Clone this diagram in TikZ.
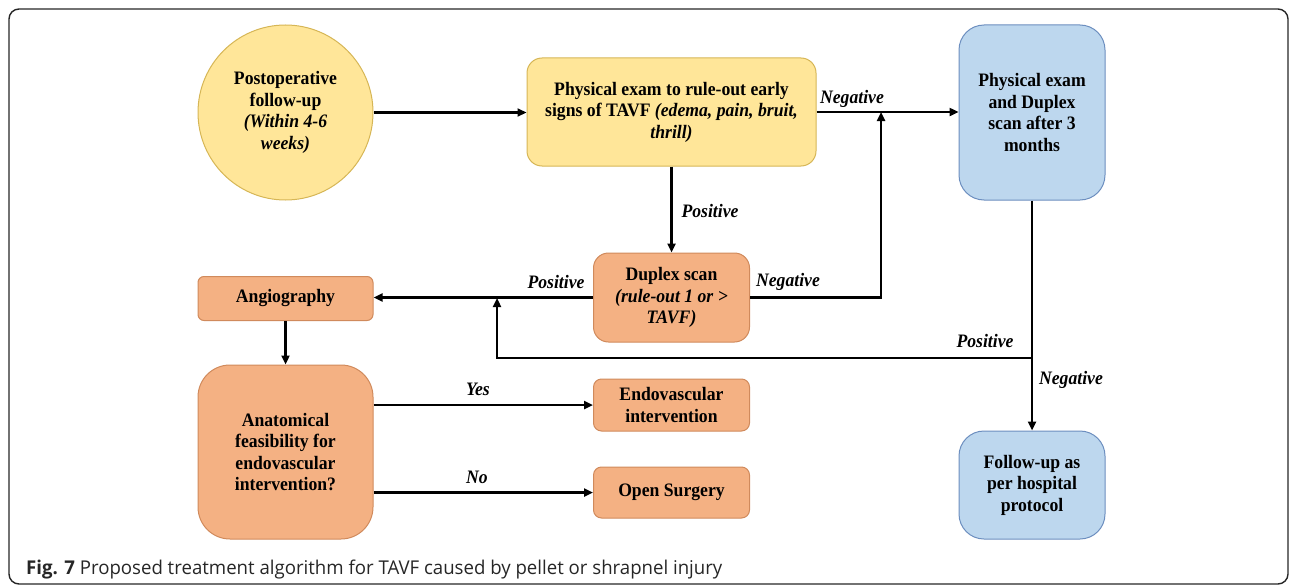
\documentclass[tikz,border=0pt]{standalone}
\usepackage{fontspec}
\setmainfont{Liberation Serif}[FakeStretch=0.93]
\newfontfamily\capfont{Open Sans}[FakeStretch=0.98]
\usetikzlibrary{arrows.meta}
\definecolor{ylwfill}{HTML}{FFE699}
\definecolor{ylwdraw}{HTML}{D6B656}
\definecolor{orgfill}{HTML}{F4B183}
\definecolor{orgdraw}{HTML}{D08A5C}
\definecolor{blufill}{HTML}{BDD7EE}
\definecolor{bludraw}{HTML}{6C8EBF}
\begin{document}
\begin{tikzpicture}[x=1pt,y=-1pt,
  txt/.style={font=\fontsize{19}{21.5}\selectfont\bfseries, align=center},
  boxbase/.style={txt, draw, line width=1pt, inner sep=0pt},
  ylwbox/.style={boxbase, fill=ylwfill, draw=ylwdraw},
  orgbox/.style={boxbase, fill=orgfill, draw=orgdraw},
  blubox/.style={boxbase, fill=blufill, draw=bludraw},
  lbl/.style={font=\fontsize{19}{21.5}\selectfont\bfseries\itshape, inner sep=0pt},
  arr/.style={line width=2.6pt, -{Triangle[length=9pt,width=8pt]}}
]
\useasboundingbox (0,0) rectangle (1290,586);
\draw[line width=1.4pt, draw=black!85, rounded corners=10pt] (9,9) rectangle (1288,584);

% nodes
\node[ylwbox, circle, minimum size=175pt] (circ) at (285.5,112.5)
  {Postoperative\\follow-up\\\textit{(Within 4-6}\\\textit{weeks)}};
\node[ylwbox, rounded corners=15pt, minimum width=289pt, minimum height=108pt] (pe) at (671.5,112)
  {Physical exam to rule-out early\\signs of TAVF \textit{(edema, pain, bruit,}\\\textit{thrill)}};
\node[blubox, rounded corners=25pt, minimum width=146pt, minimum height=175pt] (b1) at (1032,112.5)
  {Physical exam\\and Duplex\\scan after 3\\months};
\node[orgbox, rounded corners=15pt, minimum width=156pt, minimum height=89pt] (dup) at (671.5,297.5)
  {Duplex scan\\\textit{(rule-out 1 or >}\\\textit{TAVF)}};
\node[orgbox, rounded corners=6pt, minimum width=175pt, minimum height=44pt] (ang) at (285.5,298.5)
  {Angiography};
\node[orgbox, rounded corners=32pt, minimum width=175pt, minimum height=174pt] (anat) at (285.5,452)
  {Anatomical\\feasibility for\\endovascular\\intervention?};
\node[orgbox, rounded corners=8pt, minimum width=156pt, minimum height=52pt] (endo) at (671.5,405)
  {Endovascular\\intervention};
\node[orgbox, rounded corners=8pt, minimum width=156pt, minimum height=51pt] (open) at (671.5,492.5)
  {Open Surgery};
\node[blubox, rounded corners=25pt, minimum width=146pt, minimum height=108pt] (b2) at (1032,485)
  {Follow-up as\\per hospital\\protocol};

% junction coordinates
\coordinate (j1) at (1032,358);
\coordinate (j2) at (497,298);
\coordinate (j3) at (881,112);

% connectors
\draw[arr] (circ.east) -- (circ.east -| pe.west);
\draw[arr] (pe.east) -- (pe.east -| b1.west);
\draw[arr] (pe.south) -- (dup.north);
\draw[arr] (dup.west) -- (dup.west -| ang.east);
\draw[arr] (dup.east) -| (j3);
\draw[arr] (ang.south) -- (anat.north);
\draw[arr] (anat.east |- endo.west) -- (endo.west);
\draw[arr] (anat.east |- open.west) -- (open.west);
\draw[arr] (b1.south) -- (b2.north);
\draw[arr] (j1) -| (j2);

% labels
\node[lbl] (l1) at (852,99) {Negative};
\node[lbl] (l2) at (710,211) {Positive};
\node[lbl] (l3) at (788,282) {Negative};
\node[lbl] (l4) at (556,282) {Positive};
\node[lbl] (l5) at (985,341) {Positive};
\node[lbl] (l6) at (1071,380) {Negative};
\node[lbl] (l7) at (478,389) {Yes};
\node[lbl] (l8) at (477,477) {No};

% caption
\node[anchor=base west, inner sep=0pt, text=black!85, font=\capfont\fontsize{19}{22}\selectfont] (cap) at (26,574)
  {\textbf{Fig. 7} Proposed treatment algorithm for TAVF caused by pellet or shrapnel injury};
\end{tikzpicture}
\end{document}
